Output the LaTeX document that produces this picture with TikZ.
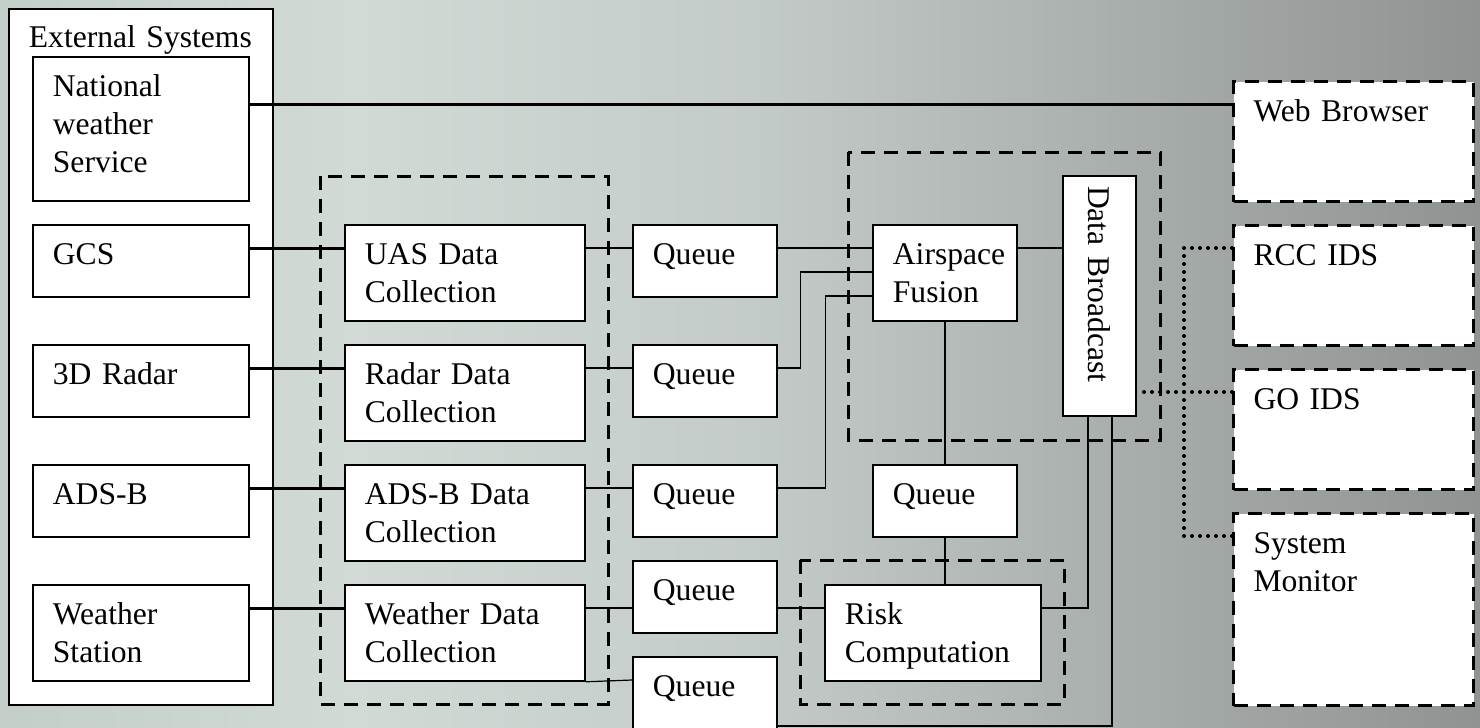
\documentclass[tikz,border=0pt]{standalone}
\usepackage{fontspec}
\setmainfont{Liberation Serif}
\usetikzlibrary{calc}

\pgfdeclarehorizontalshading{bgshade}{100bp}{rgb(0bp)=(.77,.81,.79); rgb(25bp)=(.77,.81,.79); rgb(37bp)=(.82,.855,.835); rgb(50bp)=(.77,.80,.79); rgb(75bp)=(.56,.575,.57); rgb(100bp)=(.56,.575,.57)}

\tikzset{
  box/.style={draw, fill=white, line width=0.9pt, anchor=north west, inner xsep=10pt, inner ysep=0pt, align=left, text height=20pt},
  extbox/.style={box, dash pattern=on 7pt off 4.5pt, line width=1.5pt},
  vbox/.style={draw, fill=white, line width=0.9pt, rotate=-90, minimum width=120pt, minimum height=36.5pt, inner xsep=5pt, text width=110pt, align=left},
  grpbox/.style={dash pattern=on 7pt off 4.5pt, line width=1.5pt},
  link/.style={line width=0.6pt},
  bold/.style={line width=1.5pt},
  dotline/.style={line width=2pt, dash pattern=on 0pt off 4pt, line cap=round}
}

\begin{document}
\begin{tikzpicture}[x=0.5pt,y=-0.5pt,font=\fontsize{15.8pt}{19pt}\selectfont]
\useasboundingbox (0,0) rectangle (1480,728);
\shade[shading=bgshade] (0,0) rectangle (1480,728);
%\draw[black!10!white, step=40] (0,0) grid (1480,728);

% groups
\draw[grpbox] (320,176) rectangle (608,704);
\draw[grpbox] (848,152) rectangle (1160,440);
\draw[grpbox] (800,560) rectangle (1064,704);

% external systems
\node[box, text width=112pt, text height=19.5pt, text depth=328.5pt] (ext) at (8,8) {External~Systems};
\node[box, text width=88pt, text depth=52pt] (nws) at (32,56) {National\\weather\\Service};
\node[box, text width=88pt, text depth=16pt] (gcs) at (32,224) {GCS};
\node[box, text width=88pt, text depth=16pt] (radar) at (32,344) {3D Radar};
\node[box, text width=88pt, text depth=16pt] (adsb) at (32,464) {ADS-B};
\node[box, text width=88pt, text depth=28pt] (wx) at (32,584) {Weather\\Station};

% data collection
\node[box, text width=100pt, text depth=28pt] (uas) at (344,224) {UAS Data\\Collection};
\node[box, text width=100pt, text depth=28pt] (radarc) at (344,344) {Radar Data\\Collection};
\node[box, text width=100pt, text depth=28pt] (adsbc) at (344,464) {ADS-B Data\\Collection};
\node[box, text width=100pt, text depth=28pt] (wxc) at (344,584) {Weather Data\\Collection};

% queues
\node[box, text width=52pt, text depth=16pt] (q1) at (632,224) {Queue};
\node[box, text width=52pt, text depth=16pt] (q2) at (632,344) {Queue};
\node[box, text width=52pt, text depth=16pt] (q3) at (632,464) {Queue};
\node[box, text width=52pt, text depth=16pt] (q4) at (632,560) {Queue};
\node[box, text width=52pt, text depth=22pt] (q5) at (632,656) {Queue};

% fusion, risk, broadcast
\node[box, text width=52pt, text depth=28pt] (fusion) at (872,224) {Airspace\\Fusion};
\node[box, text width=52pt, text depth=16pt] (qmid) at (872,464) {Queue};
\node[box, text width=88pt, text depth=28pt] (risk) at (824,584) {Risk\\Computation};
\node[vbox] (bcast) at (1099.5,296) {Data Broadcast};

% clients
\node[extbox, text width=100pt, text depth=40pt] (web) at (1232,80) {Web Browser};
\node[extbox, text width=100pt, text depth=40pt] (rcc) at (1232,224) {RCC IDS};
\node[extbox, text width=100pt, text depth=40pt] (goids) at (1232,368) {GO IDS};
\node[extbox, text width=100pt, text depth=76pt] (sysmon) at (1232,512) {System\\Monitor};

% sources
\draw[bold] ($(nws.north east)+(0,48)$) -- ($(web.north west)+(0,24)$);
\foreach \a/\b in {gcs/uas, radar/radarc, adsb/adsbc, wx/wxc}{
\draw[bold] ($(\a.north east)+(0,24)$) -- ($(\b.north west)+(0,24)$);}

% pipeline
\foreach \a/\b in {uas/q1, q1/fusion, radarc/q2, adsbc/q3}{
\draw[link] ($(\a.north east)+(0,24)$) -- ($(\b.north west)+(0,24)$);}
\draw[link] ($(q2.north east)+(0,24)$) -- ++(23,0) |- ($(fusion.north west)+(0,48)$);
\draw[link] ($(q3.north east)+(0,24)$) -- ++(48,0) |- ($(fusion.north west)+(0,72)$);
\draw[link] ($(wxc.north east)+(0,24)$) -- ($(q4.north west)+(0,48)$);
\draw[link] ($(q4.north east)+(0,48)$) -- ($(risk.north west)+(0,24)$);
\draw[link] (wxc.south east) -- ($(q5.north west)+(0,24)$);
\coordinate (f1) at ($(fusion.north east)+(0,24)$);
\draw[link] (f1) -- (f1 -| bcast.south);
\draw[link] (fusion.south) -- (qmid.north);
\draw[link] (qmid.south) -- (qmid.south |- risk.north);
\draw[link] ($(risk.north east)+(0,24)$) -| ($(bcast.east)+(-11.5,0)$);
\draw[link] ($(bcast.east)+(12.5,0)$) |- ($(q5.north east)+(0,70)$);

% monitoring
\coordinate (g1) at ($(goids.north west)+(0,24)$);
\draw[dotline] (g1) -- ($(g1 -| bcast.north)+(6,0)$);
\draw[dotline] ($(rcc.north west)+(0,24)$) -| ($(sysmon.north west)+(-48,24)$) -- ($(sysmon.north west)+(0,24)$);
\end{tikzpicture}
\end{document}
